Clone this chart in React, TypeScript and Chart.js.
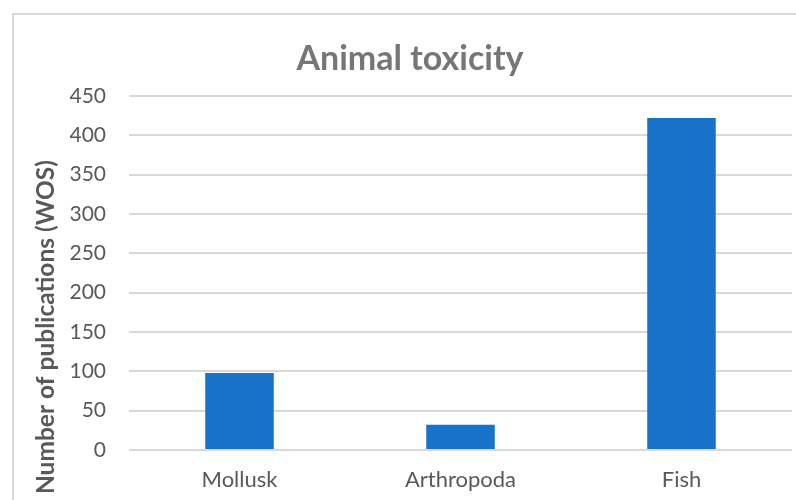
import React, { useEffect, useRef } from "react";
import { Chart, registerables } from "chart.js";

Chart.register(...registerables);

const categories = ["Mollusk", "Arthropoda", "Fish"];
const publications = [98, 32, 422];
const chartTitle = "Animal toxicity";
const yAxisTitle = "Number of publications (WOS)";
const yMin = 0;
const yMax = 450;
const yStep = 50;

const FONT = "Lato, 'Open Sans', sans-serif";

const yTitlePlugin = {
  id: "yTitlePlugin",
  afterDraw(chart: any) {
    const { ctx } = chart;
    ctx.save();
    ctx.font = `bold 24.5px ${FONT}`;
    ctx.fillStyle = "#595959";
    ctx.translate(46, 160);
    ctx.rotate(-Math.PI / 2);
    ctx.textAlign = "right";
    ctx.textBaseline = "middle";
    ctx.fillText(yAxisTitle, 0, 0);
    ctx.restore();
  },
};

export default function App() {
  const canvasRef = useRef<HTMLCanvasElement | null>(null);

  useEffect(() => {
    document.body.style.margin = "0";
    const canvas = canvasRef.current;
    if (!canvas) return;
    const chart = new Chart(canvas, {
      type: "bar",
      data: {
        labels: categories,
        datasets: [
          {
            data: publications,
            backgroundColor: "#1772c8",
            borderWidth: 0,
            categoryPercentage: 1,
            barPercentage: 0.31,
          },
        ],
      },
      options: {
        animation: false,
        responsive: false,
        maintainAspectRatio: false,
        layout: { padding: { top: 0, right: 4, bottom: 8, left: 28 } },
        plugins: {
          legend: { display: false },
          tooltip: { enabled: false },
          title: {
            display: true,
            text: chartTitle,
            color: "#767676",
            font: { family: FONT, size: 34, weight: "bold", lineHeight: 1.2 },
            padding: { top: 39, bottom: 16.2 },
          },
        },
        scales: {
          x: {
            grid: { display: false, drawTicks: false },
            border: { display: false },
            ticks: {
              color: "#595959",
              font: { family: FONT, size: 22 },
              padding: 17,
            },
            afterFit(scale: any) {
              scale.height = 42;
            },
          },
          y: {
            min: yMin,
            max: yMax,
            grid: { color: "#d9d9d9", lineWidth: 2, drawTicks: false },
            border: { display: false },
            ticks: {
              stepSize: yStep,
              color: "#595959",
              font: { family: FONT, size: 21 },
              padding: 23,
            },
            afterFit(scale: any) {
              scale.width = 101;
            },
          },
        },
      },
      plugins: [yTitlePlugin],
    });
    return () => chart.destroy();
  }, []);

  return (
    <div style={{ position: "relative", width: 796, height: 500, overflow: "hidden", background: "#fff" }}>
      <div
        style={{
          position: "absolute",
          left: 12,
          top: 13,
          width: 900,
          height: 600,
          borderLeft: "2px solid #d9d9d9",
          borderTop: "2px solid #d9d9d9",
        }}
      />
      <canvas ref={canvasRef} width={796} height={500} style={{ position: "absolute", left: 0, top: 0 }} />
    </div>
  );
}
